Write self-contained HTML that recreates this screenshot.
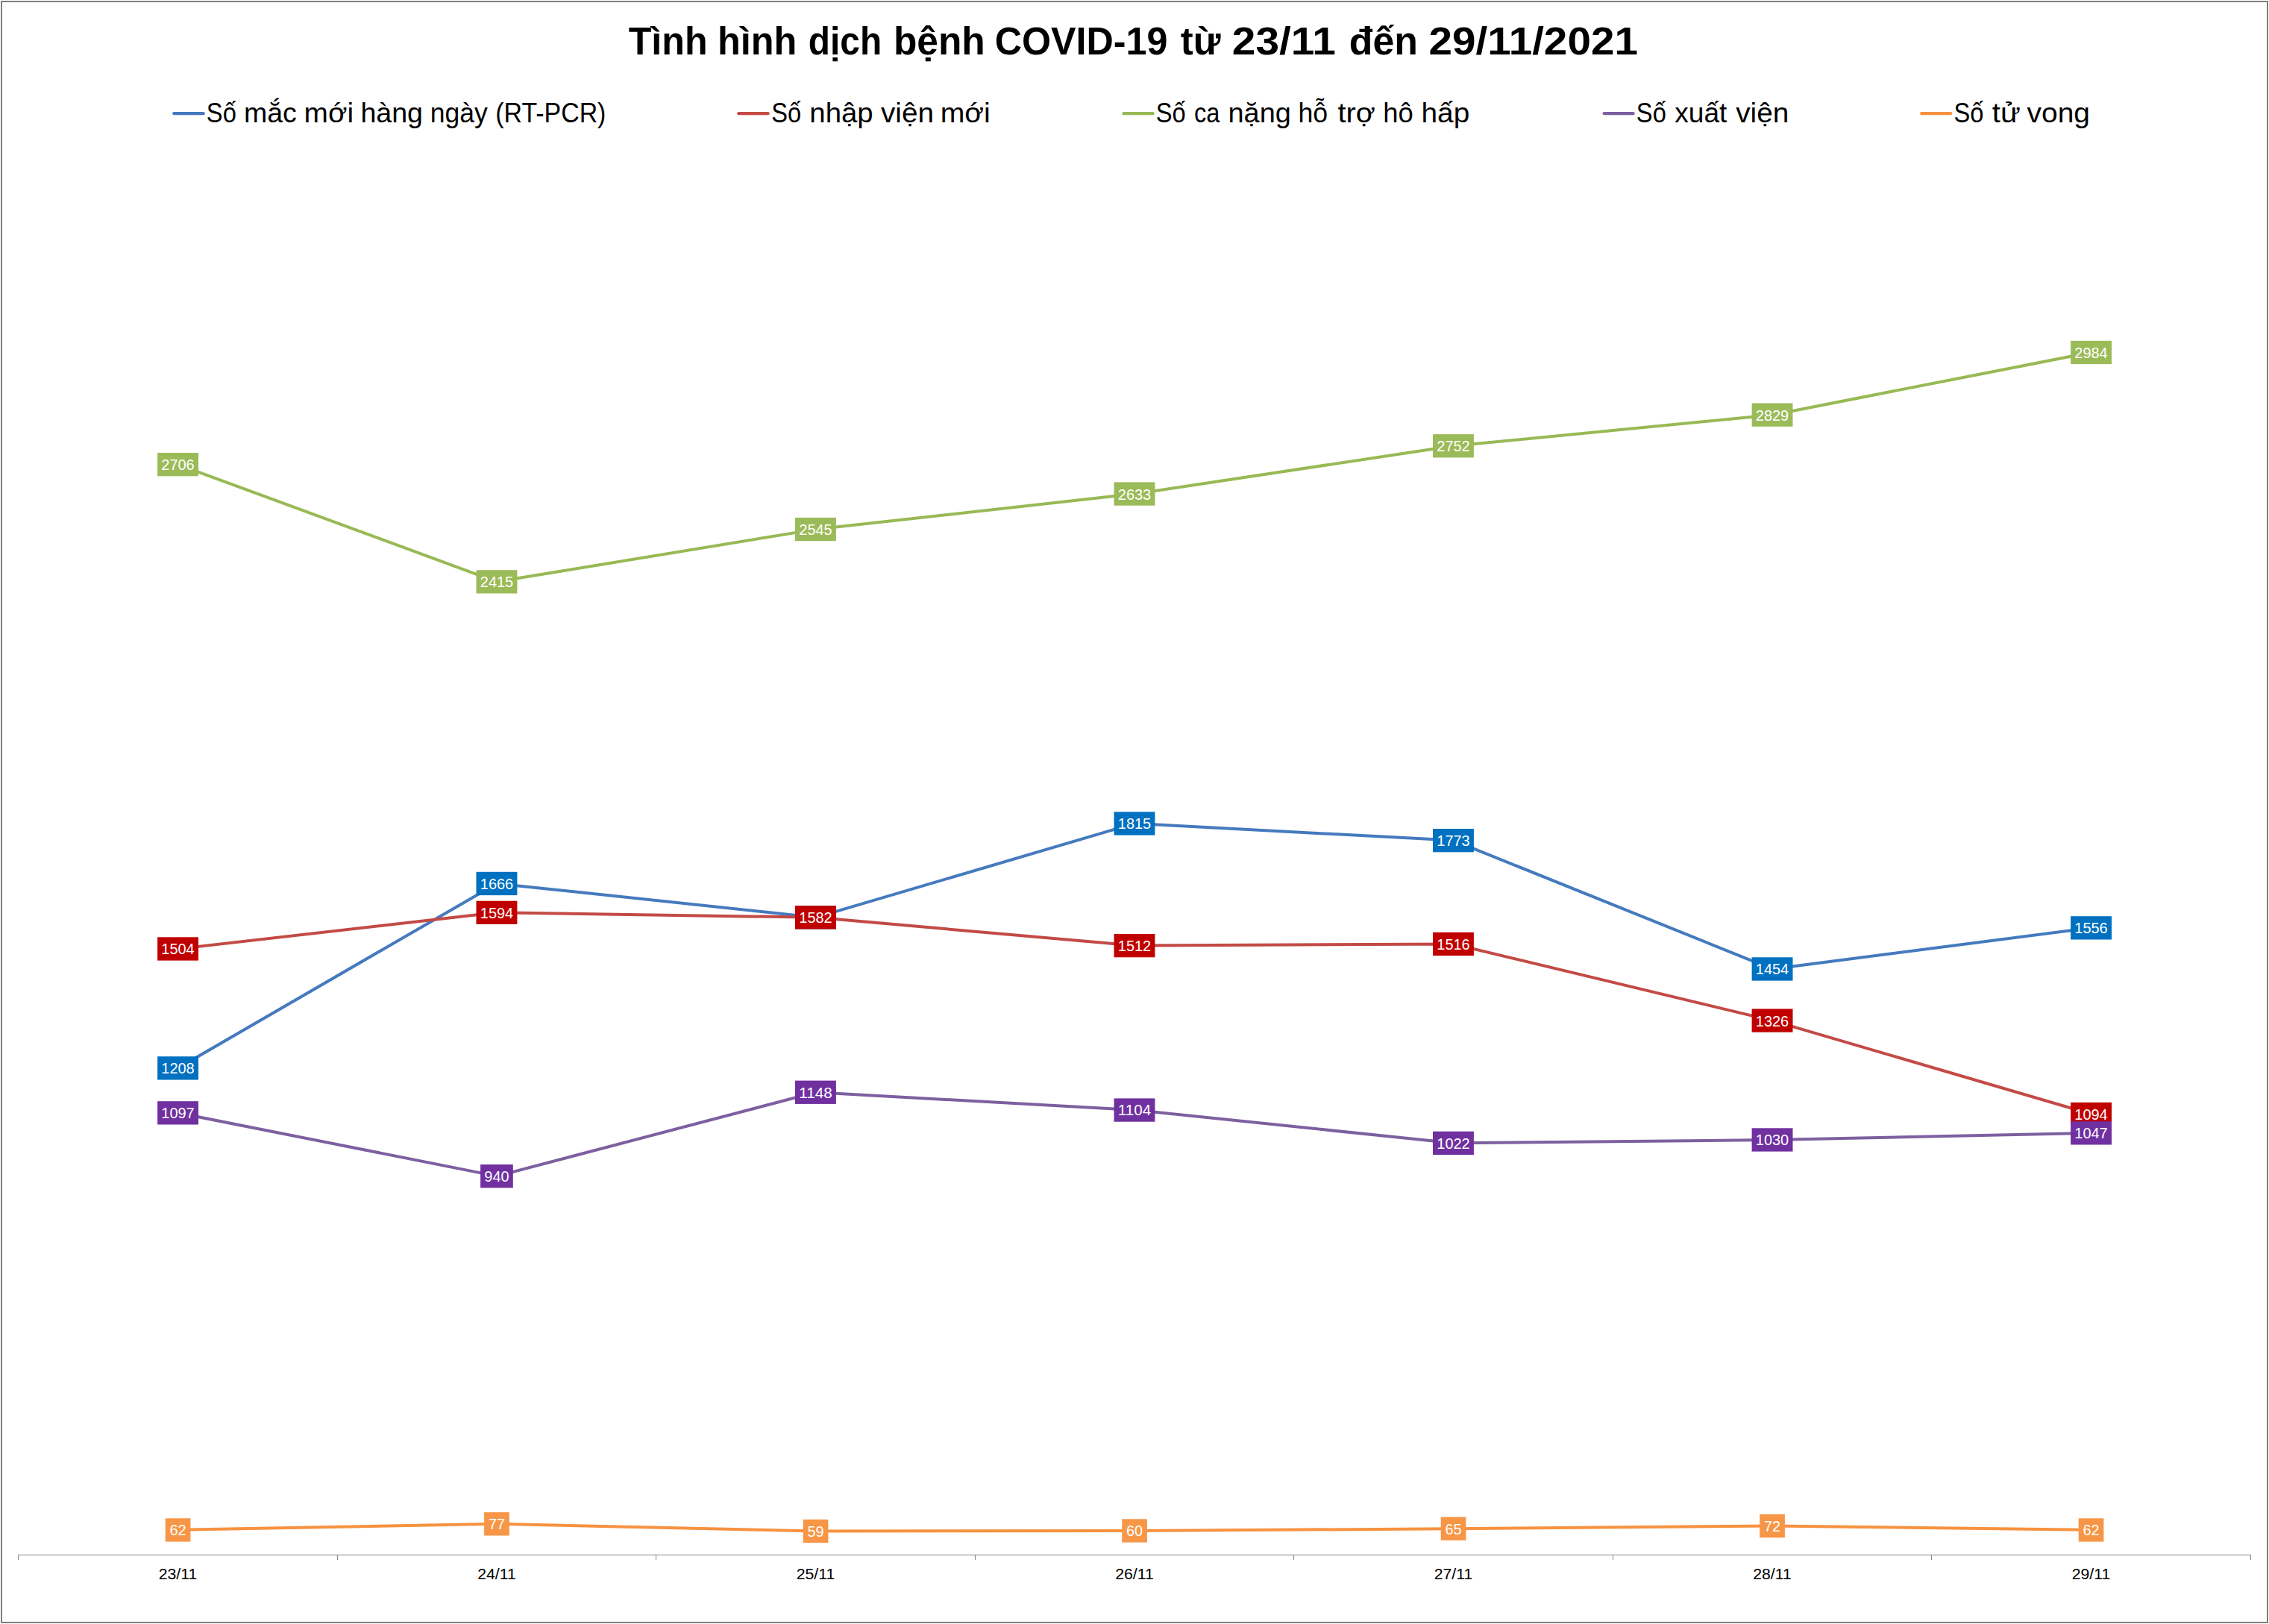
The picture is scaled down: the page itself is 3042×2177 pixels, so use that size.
<!DOCTYPE html>
<html lang="vi"><head><meta charset="utf-8"><title>Tình hình dịch bệnh COVID-19 từ 23/11 đến 29/11/2021</title>
<style>html,body{margin:0;padding:0;background:#fff}body{width:3042px;height:2177px;overflow:hidden}svg{display:block}text{font-family:"Liberation Sans",sans-serif;white-space:pre}</style>
</head><body>
<svg width="3042" height="2177" viewBox="0 0 3042 2177">
<rect x="0" y="0" width="3042" height="2177" fill="#fff"/>
<rect x="2" y="2" width="3038" height="2173" fill="none" stroke="#7F7F7F" stroke-width="2"/>
<text y="72.75" font-size="52.40" font-weight="700" fill="#000"><tspan x="842.73" textLength="105.89" lengthAdjust="spacingAndGlyphs">Tình</tspan> <tspan x="961.98" textLength="106.36" lengthAdjust="spacingAndGlyphs">hình</tspan> <tspan x="1083.84" textLength="98.25" lengthAdjust="spacingAndGlyphs">dịch</tspan> <tspan x="1197.90" textLength="122.82" lengthAdjust="spacingAndGlyphs">bệnh</tspan> <tspan x="1333.64" textLength="231.81" lengthAdjust="spacingAndGlyphs">COVID-19</tspan> <tspan x="1582.78" textLength="53.74" lengthAdjust="spacingAndGlyphs">từ</tspan> <tspan x="1651.83" textLength="138.99" lengthAdjust="spacingAndGlyphs">23/11</tspan> <tspan x="1808.77" textLength="92.06" lengthAdjust="spacingAndGlyphs">đến</tspan> <tspan x="1915.53" textLength="280.38" lengthAdjust="spacingAndGlyphs">29/11/2021</tspan></text>
<line x1="233.3" y1="152.2" x2="272.6" y2="152.2" stroke="#457ABE" stroke-width="4.3" stroke-linecap="round"/>
<text y="163.80" font-size="37.80" font-weight="400" fill="#000"><tspan x="276.86" textLength="39.92" lengthAdjust="spacingAndGlyphs">Số</tspan> <tspan x="326.98" textLength="70.87" lengthAdjust="spacingAndGlyphs">mắc</tspan> <tspan x="407.59" textLength="66.45" lengthAdjust="spacingAndGlyphs">mới</tspan> <tspan x="483.39" textLength="83.66" lengthAdjust="spacingAndGlyphs">hàng</tspan> <tspan x="576.81" textLength="77.11" lengthAdjust="spacingAndGlyphs">ngày</tspan> <tspan x="664.29" textLength="148.14" lengthAdjust="spacingAndGlyphs">(RT-PCR)</tspan></text>
<line x1="990.4" y1="152.2" x2="1029.5" y2="152.2" stroke="#C34A45" stroke-width="4.3" stroke-linecap="round"/>
<text y="163.80" font-size="37.80" font-weight="400" fill="#000"><tspan x="1034.26" textLength="39.92" lengthAdjust="spacingAndGlyphs">Số</tspan> <tspan x="1085.32" textLength="85.30" lengthAdjust="spacingAndGlyphs">nhập</tspan> <tspan x="1180.99" textLength="71.03" lengthAdjust="spacingAndGlyphs">viện</tspan> <tspan x="1260.67" textLength="67.10" lengthAdjust="spacingAndGlyphs">mới</tspan></text>
<line x1="1506.5" y1="152.2" x2="1545.5" y2="152.2" stroke="#98B954" stroke-width="4.3" stroke-linecap="round"/>
<text y="163.80" font-size="37.80" font-weight="400" fill="#000"><tspan x="1549.76" textLength="39.92" lengthAdjust="spacingAndGlyphs">Số</tspan> <tspan x="1601.01" textLength="34.42" lengthAdjust="spacingAndGlyphs">ca</tspan> <tspan x="1646.55" textLength="84.32" lengthAdjust="spacingAndGlyphs">nặng</tspan> <tspan x="1740.52" textLength="39.71" lengthAdjust="spacingAndGlyphs">hỗ</tspan> <tspan x="1793.50" textLength="50.29" lengthAdjust="spacingAndGlyphs">trợ</tspan> <tspan x="1854.37" textLength="40.49" lengthAdjust="spacingAndGlyphs">hô</tspan> <tspan x="1905.51" textLength="64.71" lengthAdjust="spacingAndGlyphs">hấp</tspan></text>
<line x1="2150.7" y1="152.2" x2="2189.5" y2="152.2" stroke="#7D60A0" stroke-width="4.3" stroke-linecap="round"/>
<text y="163.80" font-size="37.80" font-weight="400" fill="#000"><tspan x="2193.86" textLength="39.92" lengthAdjust="spacingAndGlyphs">Số</tspan> <tspan x="2245.18" textLength="70.20" lengthAdjust="spacingAndGlyphs">xuất</tspan> <tspan x="2327.19" textLength="71.24" lengthAdjust="spacingAndGlyphs">viện</tspan></text>
<line x1="2576.3" y1="152.2" x2="2615.2" y2="152.2" stroke="#F69240" stroke-width="4.3" stroke-linecap="round"/>
<text y="163.80" font-size="37.80" font-weight="400" fill="#000"><tspan x="2619.56" textLength="39.92" lengthAdjust="spacingAndGlyphs">Số</tspan> <tspan x="2670.79" textLength="37.95" lengthAdjust="spacingAndGlyphs">tử</tspan> <tspan x="2717.49" textLength="84.55" lengthAdjust="spacingAndGlyphs">vong</tspan></text>
<path d="M24 2084.5H3018" stroke="#868686" stroke-width="1" fill="none"/>
<path d="M24.5 2084v7M452.5 2084v7M879.5 2084v7M1307.5 2084v7M1734.5 2084v7M2162.5 2084v7M2589.5 2084v7M3017.5 2084v7" stroke="#868686" stroke-width="1" fill="none"/>
<text y="2117.00" font-size="19.60" font-weight="400" fill="#000"><tspan x="212.73" textLength="51.51" lengthAdjust="spacingAndGlyphs">23/11</tspan></text>
<text y="2117.00" font-size="19.60" font-weight="400" fill="#000"><tspan x="640.23" textLength="51.51" lengthAdjust="spacingAndGlyphs">24/11</tspan></text>
<text y="2117.00" font-size="19.60" font-weight="400" fill="#000"><tspan x="1067.73" textLength="51.51" lengthAdjust="spacingAndGlyphs">25/11</tspan></text>
<text y="2117.00" font-size="19.60" font-weight="400" fill="#000"><tspan x="1495.23" textLength="51.51" lengthAdjust="spacingAndGlyphs">26/11</tspan></text>
<text y="2117.00" font-size="19.60" font-weight="400" fill="#000"><tspan x="1922.73" textLength="51.51" lengthAdjust="spacingAndGlyphs">27/11</tspan></text>
<text y="2117.00" font-size="19.60" font-weight="400" fill="#000"><tspan x="2350.23" textLength="51.51" lengthAdjust="spacingAndGlyphs">28/11</tspan></text>
<text y="2117.00" font-size="19.60" font-weight="400" fill="#000"><tspan x="2777.73" textLength="51.51" lengthAdjust="spacingAndGlyphs">29/11</tspan></text>
<polyline points="238.5,1431.8 666.0,1184.4 1093.5,1229.8 1521.0,1103.9 1948.5,1126.6 2376.0,1298.9 2803.5,1243.8" fill="none" stroke="#457ABE" stroke-width="4.0" stroke-linejoin="round" stroke-linecap="round"/>
<polyline points="238.5,1271.9 666.0,1223.3 1093.5,1229.8 1521.0,1267.6 1948.5,1265.5 2376.0,1368.1 2803.5,1493.4" fill="none" stroke="#C34A45" stroke-width="4.0" stroke-linejoin="round" stroke-linecap="round"/>
<polyline points="238.5,622.6 666.0,779.8 1093.5,709.6 1521.0,662.1 1948.5,597.8 2376.0,556.2 2803.5,472.4" fill="none" stroke="#98B954" stroke-width="4.0" stroke-linejoin="round" stroke-linecap="round"/>
<polyline points="238.5,1491.8 666.0,1576.6 1093.5,1464.3 1521.0,1488.0 1948.5,1532.3 2376.0,1528.0 2803.5,1518.8" fill="none" stroke="#7D60A0" stroke-width="4.0" stroke-linejoin="round" stroke-linecap="round"/>
<polyline points="238.5,2050.9 666.0,2042.8 1093.5,2052.5 1521.0,2052.0 1948.5,2049.3 2376.0,2045.5 2803.5,2050.9" fill="none" stroke="#F69240" stroke-width="4.0" stroke-linejoin="round" stroke-linecap="round"/>
<rect x="211.1" y="1416.2" width="54.9" height="31.3" fill="#0070C0"/>
<text x="238.5" y="1439.2" font-size="19.6" fill="#fff" text-anchor="middle" textLength="44.4" lengthAdjust="spacingAndGlyphs">1208</text>
<rect x="638.5" y="1168.8" width="54.9" height="31.3" fill="#0070C0"/>
<text x="666.0" y="1191.8" font-size="19.6" fill="#fff" text-anchor="middle" textLength="44.4" lengthAdjust="spacingAndGlyphs">1666</text>
<rect x="1066.0" y="1214.2" width="54.9" height="31.3" fill="#0070C0"/>
<text x="1093.5" y="1237.2" font-size="19.6" fill="#fff" text-anchor="middle" textLength="44.4" lengthAdjust="spacingAndGlyphs">1582</text>
<rect x="1493.5" y="1088.3" width="54.9" height="31.3" fill="#0070C0"/>
<text x="1521.0" y="1111.3" font-size="19.6" fill="#fff" text-anchor="middle" textLength="44.4" lengthAdjust="spacingAndGlyphs">1815</text>
<rect x="1921.0" y="1111.0" width="54.9" height="31.3" fill="#0070C0"/>
<text x="1948.5" y="1134.0" font-size="19.6" fill="#fff" text-anchor="middle" textLength="44.4" lengthAdjust="spacingAndGlyphs">1773</text>
<rect x="2348.6" y="1283.3" width="54.9" height="31.3" fill="#0070C0"/>
<text x="2376.0" y="1306.3" font-size="19.6" fill="#fff" text-anchor="middle" textLength="44.4" lengthAdjust="spacingAndGlyphs">1454</text>
<rect x="2776.1" y="1228.2" width="54.9" height="31.3" fill="#0070C0"/>
<text x="2803.5" y="1251.2" font-size="19.6" fill="#fff" text-anchor="middle" textLength="44.4" lengthAdjust="spacingAndGlyphs">1556</text>
<rect x="211.1" y="1256.3" width="54.9" height="31.3" fill="#C00000"/>
<text x="238.5" y="1279.3" font-size="19.6" fill="#fff" text-anchor="middle" textLength="44.4" lengthAdjust="spacingAndGlyphs">1504</text>
<rect x="638.5" y="1207.7" width="54.9" height="31.3" fill="#C00000"/>
<text x="666.0" y="1230.7" font-size="19.6" fill="#fff" text-anchor="middle" textLength="44.4" lengthAdjust="spacingAndGlyphs">1594</text>
<rect x="1066.0" y="1214.2" width="54.9" height="31.3" fill="#C00000"/>
<text x="1093.5" y="1237.2" font-size="19.6" fill="#fff" text-anchor="middle" textLength="44.4" lengthAdjust="spacingAndGlyphs">1582</text>
<rect x="1493.5" y="1252.0" width="54.9" height="31.3" fill="#C00000"/>
<text x="1521.0" y="1275.0" font-size="19.6" fill="#fff" text-anchor="middle" textLength="44.4" lengthAdjust="spacingAndGlyphs">1512</text>
<rect x="1921.0" y="1249.8" width="54.9" height="31.3" fill="#C00000"/>
<text x="1948.5" y="1272.9" font-size="19.6" fill="#fff" text-anchor="middle" textLength="44.4" lengthAdjust="spacingAndGlyphs">1516</text>
<rect x="2348.6" y="1352.4" width="54.9" height="31.3" fill="#C00000"/>
<text x="2376.0" y="1375.5" font-size="19.6" fill="#fff" text-anchor="middle" textLength="44.4" lengthAdjust="spacingAndGlyphs">1326</text>
<rect x="2776.1" y="1477.8" width="54.9" height="31.3" fill="#C00000"/>
<text x="2803.5" y="1500.8" font-size="19.6" fill="#fff" text-anchor="middle" textLength="44.4" lengthAdjust="spacingAndGlyphs">1094</text>
<rect x="211.1" y="607.0" width="54.9" height="31.3" fill="#9BBB59"/>
<text x="238.5" y="630.0" font-size="19.6" fill="#fff" text-anchor="middle" textLength="44.4" lengthAdjust="spacingAndGlyphs">2706</text>
<rect x="638.5" y="764.2" width="54.9" height="31.3" fill="#9BBB59"/>
<text x="666.0" y="787.2" font-size="19.6" fill="#fff" text-anchor="middle" textLength="44.4" lengthAdjust="spacingAndGlyphs">2415</text>
<rect x="1066.0" y="693.9" width="54.9" height="31.3" fill="#9BBB59"/>
<text x="1093.5" y="717.0" font-size="19.6" fill="#fff" text-anchor="middle" textLength="44.4" lengthAdjust="spacingAndGlyphs">2545</text>
<rect x="1493.5" y="646.4" width="54.9" height="31.3" fill="#9BBB59"/>
<text x="1521.0" y="669.5" font-size="19.6" fill="#fff" text-anchor="middle" textLength="44.4" lengthAdjust="spacingAndGlyphs">2633</text>
<rect x="1921.0" y="582.1" width="54.9" height="31.3" fill="#9BBB59"/>
<text x="1948.5" y="605.2" font-size="19.6" fill="#fff" text-anchor="middle" textLength="44.4" lengthAdjust="spacingAndGlyphs">2752</text>
<rect x="2348.6" y="540.5" width="54.9" height="31.3" fill="#9BBB59"/>
<text x="2376.0" y="563.6" font-size="19.6" fill="#fff" text-anchor="middle" textLength="44.4" lengthAdjust="spacingAndGlyphs">2829</text>
<rect x="2776.1" y="456.8" width="54.9" height="31.3" fill="#9BBB59"/>
<text x="2803.5" y="479.8" font-size="19.6" fill="#fff" text-anchor="middle" textLength="44.4" lengthAdjust="spacingAndGlyphs">2984</text>
<rect x="211.1" y="1476.2" width="54.9" height="31.3" fill="#7030A0"/>
<text x="238.5" y="1499.2" font-size="19.6" fill="#fff" text-anchor="middle" textLength="44.4" lengthAdjust="spacingAndGlyphs">1097</text>
<rect x="644.1" y="1561.0" width="43.7" height="31.3" fill="#7030A0"/>
<text x="666.0" y="1584.0" font-size="19.6" fill="#fff" text-anchor="middle" textLength="33.3" lengthAdjust="spacingAndGlyphs">940</text>
<rect x="1066.0" y="1448.6" width="54.9" height="31.3" fill="#7030A0"/>
<text x="1093.5" y="1471.7" font-size="19.6" fill="#fff" text-anchor="middle" textLength="44.4" lengthAdjust="spacingAndGlyphs">1148</text>
<rect x="1493.5" y="1472.4" width="54.9" height="31.3" fill="#7030A0"/>
<text x="1521.0" y="1495.4" font-size="19.6" fill="#fff" text-anchor="middle" textLength="44.4" lengthAdjust="spacingAndGlyphs">1104</text>
<rect x="1921.0" y="1516.7" width="54.9" height="31.3" fill="#7030A0"/>
<text x="1948.5" y="1539.7" font-size="19.6" fill="#fff" text-anchor="middle" textLength="44.4" lengthAdjust="spacingAndGlyphs">1022</text>
<rect x="2348.6" y="1512.3" width="54.9" height="31.3" fill="#7030A0"/>
<text x="2376.0" y="1535.4" font-size="19.6" fill="#fff" text-anchor="middle" textLength="44.4" lengthAdjust="spacingAndGlyphs">1030</text>
<rect x="2776.1" y="1503.2" width="54.9" height="31.3" fill="#7030A0"/>
<text x="2803.5" y="1526.2" font-size="19.6" fill="#fff" text-anchor="middle" textLength="44.4" lengthAdjust="spacingAndGlyphs">1047</text>
<rect x="221.7" y="2035.3" width="33.7" height="31.3" fill="#F79646"/>
<text x="238.5" y="2058.3" font-size="19.6" fill="#fff" text-anchor="middle" textLength="22.2" lengthAdjust="spacingAndGlyphs">62</text>
<rect x="649.1" y="2027.2" width="33.7" height="31.3" fill="#F79646"/>
<text x="666.0" y="2050.2" font-size="19.6" fill="#fff" text-anchor="middle" textLength="22.2" lengthAdjust="spacingAndGlyphs">77</text>
<rect x="1076.7" y="2036.9" width="33.7" height="31.3" fill="#F79646"/>
<text x="1093.5" y="2059.9" font-size="19.6" fill="#fff" text-anchor="middle" textLength="22.2" lengthAdjust="spacingAndGlyphs">59</text>
<rect x="1504.2" y="2036.3" width="33.7" height="31.3" fill="#F79646"/>
<text x="1521.0" y="2059.4" font-size="19.6" fill="#fff" text-anchor="middle" textLength="22.2" lengthAdjust="spacingAndGlyphs">60</text>
<rect x="1931.7" y="2033.6" width="33.7" height="31.3" fill="#F79646"/>
<text x="1948.5" y="2056.7" font-size="19.6" fill="#fff" text-anchor="middle" textLength="22.2" lengthAdjust="spacingAndGlyphs">65</text>
<rect x="2359.2" y="2029.9" width="33.7" height="31.3" fill="#F79646"/>
<text x="2376.0" y="2052.9" font-size="19.6" fill="#fff" text-anchor="middle" textLength="22.2" lengthAdjust="spacingAndGlyphs">72</text>
<rect x="2786.7" y="2035.3" width="33.7" height="31.3" fill="#F79646"/>
<text x="2803.5" y="2058.3" font-size="19.6" fill="#fff" text-anchor="middle" textLength="22.2" lengthAdjust="spacingAndGlyphs">62</text>
</svg></body></html>
